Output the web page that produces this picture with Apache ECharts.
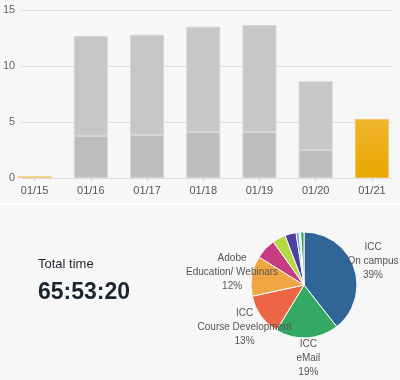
<!DOCTYPE html>
<html>
<head>
<meta charset="utf-8">
<script src="https://cdn.jsdelivr.net/npm/echarts@6/dist/echarts.min.js"></script>
<style>
html,body{margin:0;padding:0;background:#fff;}
#c{width:400px;height:380px;}
</style>
</head>
<body>
<div id="c"></div>
<script>
// ---- data ----
var days = ['01/15','01/16','01/17','01/18','01/19','01/20','01/21'];
var lowerHours = [0, 3.75, 3.85, 4.1, 4.1, 2.5, 0];
var upperHours = [0, 8.93, 8.94, 9.41, 9.56, 6.13, 0];
var todayHours = [0.15, 0, 0, 0, 0, 0, 5.27];
var yTicks = [0, 5, 10, 15];

var pieNames = ['ICC\nOn campus','ICC\neMail','ICC\nCourse Development','Adobe\nEducation/ Webinars','Other A','Other B','Other C','Other D','Other E','Other F'];
var piePercents = [39.3, 19.2, 12.9, 12.2, 6.3, 4.0, 3.4, 0.9, 0.5, 1.0];
var pieLabelShown = [true, true, true, true, false, false, false, false, false, false];
var totalLabel = 'Total time';
var totalValue = '65:53:20';

// ---- styles ----
var pieColors = ['#306598','#33a964','#ec6646','#f0a642','#c63c80','#b4d941','#4b3fa0','#6b9bd6','#d8d8d8','#2e9e5b'];

var chart = echarts.init(document.getElementById('c'), null, {renderer:'canvas'});

function noZero(arr){ return arr.map(function(v){ return v === 0 ? '-' : v; }); }

var pieData = pieNames.map(function(n,i){ return {name:n, value:piePercents[i], itemStyle:{color:pieColors[i]}}; });
var pieLabelData = pieNames.map(function(n,i){
  return {name:n, value:piePercents[i], label:{show:pieLabelShown[i]}};
});
var todayData = todayHours.map(function(v,i){
  if (v === 0) return '-';
  return i === 0 ? {value:v, itemStyle:{color:'#f2cc78', borderWidth:0}} : v;
});

var option = {
  backgroundColor:'#f7f7f7',
  animation:false,
  grid:[
    {left:18, width:374, top:10, height:168},
    {left:6.5, width:397, top:10, height:168}
  ],
  xAxis:[
    {gridIndex:0, type:'category', data:days, show:false},
    {gridIndex:1, type:'category', data:days,
     axisLine:{show:false},
     axisTick:{show:true, alignWithLabel:true, length:3, lineStyle:{color:'#cccccc'}},
     axisLabel:{color:'#555', fontSize:11, fontFamily:'Liberation Sans, Arial, sans-serif', margin:7}}
  ],
  yAxis:[
    {gridIndex:0, type:'value', min:yTicks[0], max:yTicks[yTicks.length-1], interval:5,
     axisLine:{show:false}, axisTick:{show:false},
     axisLabel:{color:'#666', fontSize:11, fontFamily:'Liberation Sans, Arial, sans-serif', margin:6},
     splitLine:{lineStyle:{color:'#dddddd', width:1}}},
    {gridIndex:1, type:'value', min:yTicks[0], max:yTicks[yTicks.length-1], show:false}
  ],
  graphic:[
    {type:'rect', shape:{x:0, y:203, width:400, height:2}, style:{fill:'#ffffff'}, silent:true},
    {type:'text', left:38, top:258, style:{text:totalLabel, fill:'#1c2630', font:'13px "Liberation Sans", Arial, sans-serif'}},
    {type:'text', left:38, top:281, style:{text:totalValue, fill:'#1c2630', font:'bold 23px "Liberation Sans", Arial, sans-serif'}}
  ],
  series:[
    {type:'bar', xAxisIndex:1, yAxisIndex:1, stack:'d', data:noZero(lowerHours), barWidth:34,
     itemStyle:{color:'#bdbdbd', borderColor:'#d4d4d4', borderWidth:1}},
    {type:'bar', xAxisIndex:1, yAxisIndex:1, stack:'d', data:noZero(upperHours), barWidth:34,
     itemStyle:{color:'#c7c7c7', borderColor:'#d6d6d6', borderWidth:1}},
    {type:'bar', xAxisIndex:1, yAxisIndex:1, stack:'d', data:todayData, barWidth:34,
     itemStyle:{color:new echarts.graphic.LinearGradient(0,0,0,1,[{offset:0,color:'#f0b62e'},{offset:1,color:'#eaa700'}]),
                borderColor:'#f2c35a', borderWidth:1}},
    {type:'pie', center:[304,285], radius:53, startAngle:90, clockwise:true,
     data:pieData, label:{show:false}, labelLine:{show:false},
     itemStyle:{borderColor:'#ffffff', borderWidth:1}, emphasis:{disabled:true}, silent:true},
    {type:'pie', center:[304,285], radius:[0,140], startAngle:90, clockwise:true,
     data:pieLabelData, silent:true, emphasis:{disabled:true}, z:5,
     itemStyle:{color:'rgba(0,0,0,0)', borderWidth:0},
     labelLine:{show:false},
     label:{position:'inside', rotate:0, color:'#555', fontSize:10, lineHeight:14, align:'center',
            fontFamily:'Liberation Sans, Arial, sans-serif',
            textBorderWidth:0,
            formatter:function(p){ return p.name + '\n' + Math.round(p.value) + '%'; }}}
  ]
};
chart.setOption(option);
</script>
</body>
</html>
